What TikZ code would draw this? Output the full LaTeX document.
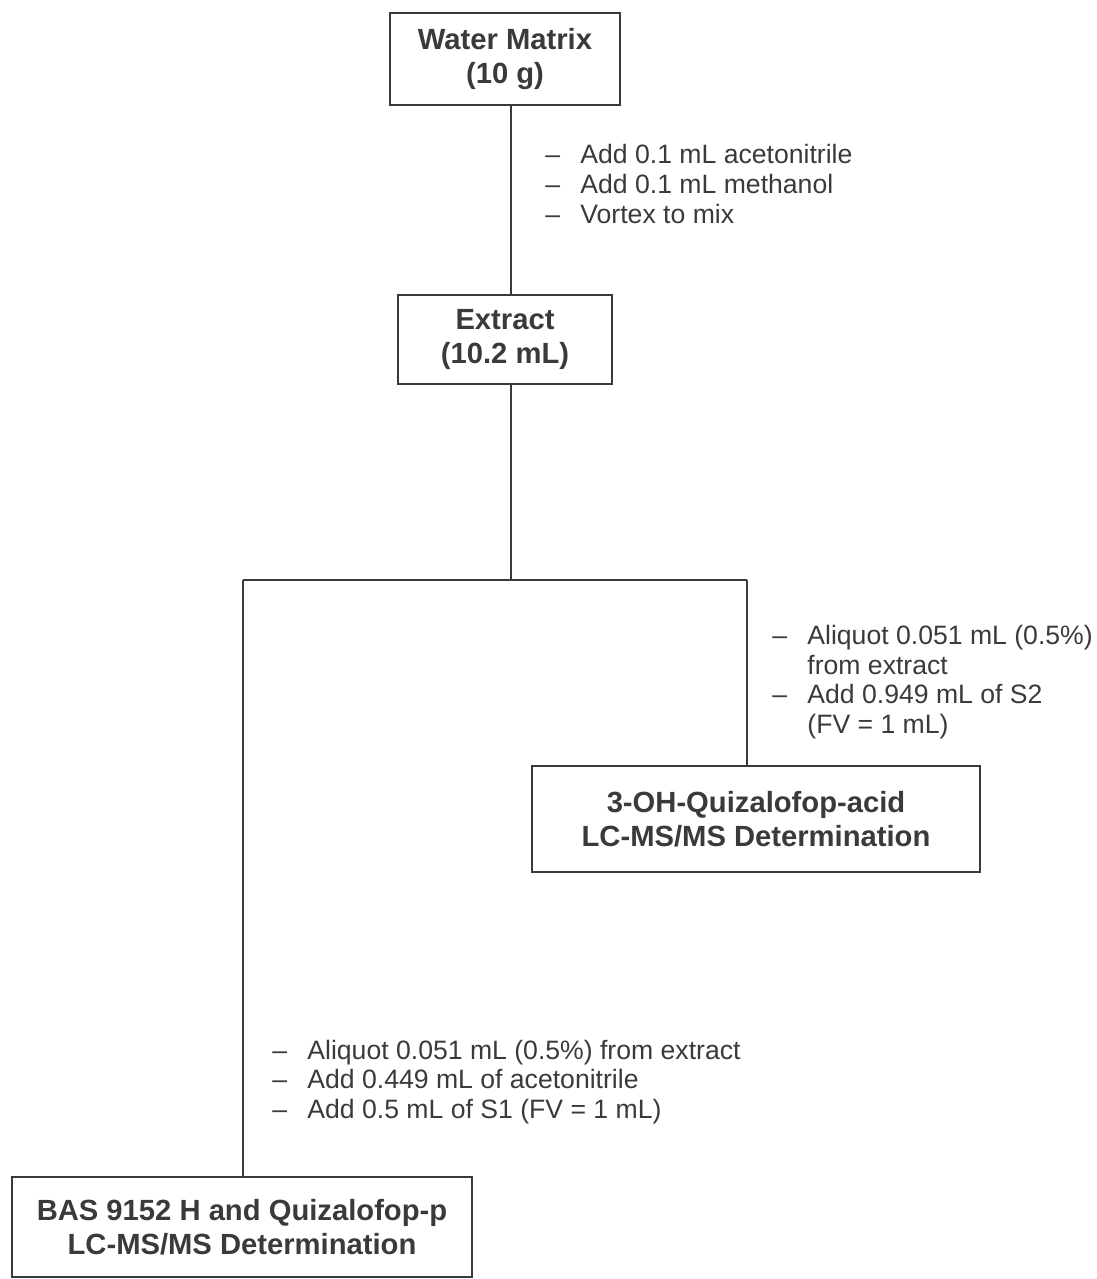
\documentclass[tikz,border=0pt]{standalone}
\usepackage{fontspec}
\setmainfont{Liberation Sans}
\usepackage{tikz}
\usetikzlibrary{positioning}
\definecolor{ink}{HTML}{3A3A3A}
\newcommand{\dashitem}[1]{\makebox[17.5pt][l]{\textendash}#1}
\newcommand{\dashcont}[1]{\hspace*{17.5pt}#1}

\begin{document}
\begin{tikzpicture}[x=0.5pt,y=-0.5pt,
  box/.style={draw=ink,line width=1pt,text=ink,align=center,inner sep=2pt,
    font=\fontsize{14.6}{16.8}\selectfont\bfseries},
  note/.style={anchor=west,align=left,text=ink,inner sep=0pt,
    font=\fontsize{13.3}{14.8}\selectfont},
  link/.style={draw=ink,line width=1pt}]
  \useasboundingbox (0,0) rectangle (1097,1279);

  % Boxes
  \node[box,minimum width=115pt,minimum height=46pt] (water) at (505,59)
    {Water Matrix\\(10 g)};
  \node[box,minimum width=107pt,minimum height=44.5pt] (extract) at (505,339.5)
    {Extract\\(10.2 mL)};
  \node[box,minimum width=224pt,minimum height=53pt] (ohacid) at (756,819)
    {3-OH-Quizalofop-acid\\LC-MS/MS Determination};
  \node[box,minimum width=230pt,minimum height=50pt] (bas) at (242,1227)
    {BAS 9152 H and Quizalofop-p\\LC-MS/MS Determination};

  % Branch points
  \coordinate (trunk) at (511,580);
  \coordinate (leftsplit) at (243,580);
  \coordinate (rightsplit) at (747,580);

  % Connectors
  \draw[link] (water.south -| trunk) -- (extract.north -| trunk);
  \draw[link] (extract.south -| trunk) -- (trunk);
  \draw[link] (leftsplit) -- (rightsplit);
  \draw[link] (rightsplit) -- (ohacid.north -| rightsplit);
  \draw[link] (leftsplit) -- (bas.north -| leftsplit);

  % Notes
  \node[note] (addsolv) at (545,184)
    {\dashitem{Add 0.1 mL acetonitrile}\\
     \dashitem{Add 0.1 mL methanol}\\
     \dashitem{Vortex to mix}};
  \node[note] (aliqright) at (772,682)
    {\dashitem{Aliquot 0.051 mL (0.5\%)}\\
     \dashcont{from extract}\\
     \dashitem{Add 0.949 mL of S2}\\
     \dashcont{(FV = 1 mL)}};
  \node[note] (aliqleft) at (272,1082)
    {\dashitem{Aliquot 0.051 mL (0.5\%) from extract}\\
     \dashitem{Add 0.449 mL of acetonitrile}\\
     \dashitem{Add 0.5 mL of S1 (FV = 1 mL)}};
\end{tikzpicture}
\end{document}
